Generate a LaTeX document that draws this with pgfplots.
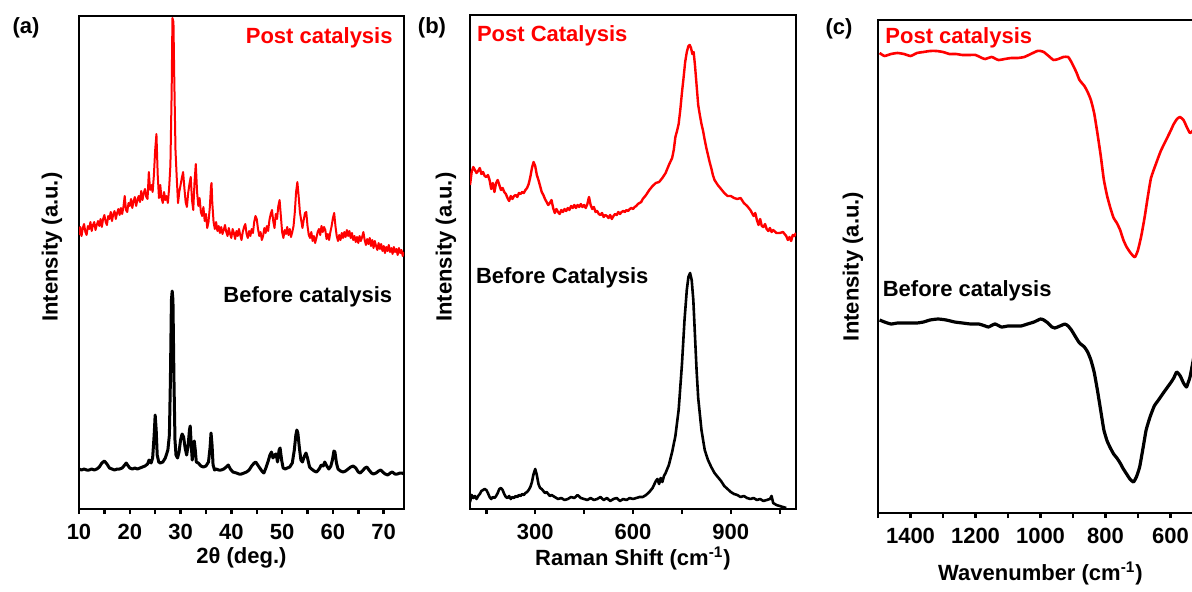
\documentclass[border=0pt]{standalone}
\usepackage{pgfplots}
\usepackage{pgfplotstable}
\pgfplotsset{compat=1.18}
\usepackage{fontspec}
\setmainfont{Liberation Sans}

\definecolor{postred}{RGB}{255,0,0}

% intensities are stored as plotted offsets (larger = lower on the panel)
\pgfplotstableread{
x y
10.00 235
10.25 227
10.50 236
10.75 228
11.00 224
11.25 232
11.50 235
11.75 226
12.00 229
12.25 222
12.50 231
12.75 225
13.00 222
13.25 230
13.50 225
13.75 221
14.00 226
14.25 219
14.50 227
14.75 219
15.00 215
15.25 222
15.50 225
15.75 216
16.00 219
16.25 212
16.50 221
16.75 214
17.00 211
17.25 219
17.50 213
17.75 209
18.00 215
18.25 208
18.50 214
18.75 207
19.00 196
19.25 210
19.50 212
19.75 203
20.00 206
20.25 199
20.50 208
20.75 201
21.00 197
21.25 206
21.50 200
21.75 196
22.00 202
22.25 191
22.50 200
22.75 193
23.00 189
23.25 197
23.50 199
23.75 172
24.00 190
24.25 185
24.50 192
24.75 175
25.00 150
25.25 134
25.50 175
25.75 198
26.00 185
26.25 198
26.50 203
26.75 192
27.00 200
27.25 196
27.50 203
27.75 188
28.00 165
28.25 90
28.40 18
28.60 22
28.75 75
29.00 150
29.25 178
29.50 203
29.75 192
30.00 185
30.25 178
30.50 172
30.75 188
31.00 202
31.25 207
31.50 193
31.75 184
32.00 177
32.25 200
32.50 210
32.75 182
33.00 164
33.25 192
33.50 206
33.75 198
34.00 212
34.25 216
34.50 207
34.75 221
35.00 214
35.25 228
35.50 222
35.75 208
36.00 186
36.10 183
36.25 203
36.50 222
36.75 229
37.00 222
37.25 231
37.50 226
37.75 233
38.00 227
38.25 234
38.50 230
38.75 225
39.00 232
39.25 236
39.50 228
39.75 234
40.00 238
40.25 229
40.50 233
40.75 239
41.00 231
41.25 236
41.50 229
41.75 235
42.00 240
42.25 232
42.50 227
42.75 224
43.00 234
43.25 238
43.50 231
43.75 236
44.00 229
44.25 233
44.50 222
44.75 216
45.00 219
45.25 229
45.50 236
45.75 232
46.00 240
46.25 236
46.50 228
46.75 233
47.00 226
47.25 231
47.50 220
47.75 214
48.00 210
48.25 221
48.50 228
48.75 214
49.00 219
49.25 206
49.50 200
49.75 216
50.00 232
50.25 238
50.50 230
50.75 234
51.00 227
51.25 235
51.50 229
51.75 237
52.00 232
52.25 226
52.50 212
52.75 192
53.00 182
53.25 196
53.50 212
53.75 220
54.00 228
54.25 220
54.50 213
54.75 212
55.00 226
55.25 235
55.50 238
55.75 232
56.00 241
56.25 236
56.50 243
56.75 238
57.00 232
57.25 229
57.50 235
57.75 226
58.00 232
58.25 227
58.50 230
58.75 239
59.00 234
59.25 240
59.50 232
59.75 226
60.00 218
60.25 213
60.50 226
60.75 236
61.00 241
61.25 235
61.50 240
61.75 233
62.00 238
62.25 232
62.50 237
62.75 230
63.00 236
63.25 231
63.50 238
63.75 233
64.00 240
64.25 236
64.50 242
64.75 237
65.00 243
65.25 236
65.50 241
65.75 237
66.00 232
66.25 240
66.50 245
66.75 239
67.00 244
67.25 238
67.50 246
67.75 240
68.00 248
68.25 241
68.50 246
68.75 250
69.00 243
69.25 249
69.50 244
69.75 251
70.00 246
70.25 253
70.50 247
70.75 251
71.00 245
71.25 252
71.50 248
71.75 254
72.00 247
72.25 252
72.50 249
72.75 255
73.00 248
73.25 253
73.50 250
73.75 256
74.00 252
}\xrdpost

\pgfplotstableread{
x y
10.0 469
10.5 470
11.0 469
11.5 470
12.0 470
12.5 469
13.0 470
13.5 469
14.0 467
14.5 463
15.0 461
15.5 464
16.0 468
16.5 469
17.0 470
17.5 469
18.0 469
18.5 468
19.0 465
19.3 463
19.7 466
20.0 468
20.5 469
21.0 468
21.5 469
22.0 468
22.5 467
23.0 466
23.5 464
23.8 460
24.2 463
24.5 458
24.8 435
25.0 415
25.2 430
25.4 455
25.7 462
26.0 463
26.5 462
27.0 458
27.5 450
27.8 435
28.0 380
28.2 300
28.35 291
28.5 300
28.7 380
28.9 440
29.1 455
29.4 458
29.7 452
30.0 440
30.3 434
30.6 437
30.9 448
31.2 455
31.5 445
31.75 430
31.9 426
32.1 445
32.3 460
32.55 445
32.7 441
32.9 450
33.1 462
33.5 463
34.0 466
34.5 467
35.0 466
35.5 462
35.8 448
36.0 433
36.2 445
36.4 465
36.7 470
37.0 469
37.5 470
38.0 470
38.5 469
39.0 467
39.4 465
39.8 469
40.3 472
41.0 473
41.5 474
42.0 474
42.5 473
43.0 472
43.5 470
44.0 466
44.5 463
44.8 462
45.2 465
45.6 468
46.0 471
46.4 473
46.8 468
47.2 462
47.6 455
47.9 452
48.2 458
48.5 455
48.8 454
49.1 462
49.4 450
49.6 448
49.9 460
50.2 468
50.6 469
51.0 468
51.5 467
52.0 463
52.4 450
52.7 435
52.9 430
53.1 433
53.4 448
53.7 460
54.0 462
54.4 456
54.7 453
55.0 458
55.4 467
55.8 469
56.3 471
56.8 472
57.3 469
57.7 465
58.1 466
58.4 462
58.8 466
59.2 469
59.6 466
59.9 460
60.2 451
60.4 452
60.7 463
61.0 469
61.5 471
62.0 472
62.5 471
63.0 469
63.5 467
64.0 466
64.5 468
65.0 472
65.4 473
65.8 471
66.3 468
66.7 467
67.1 470
67.6 473
68.0 474
68.5 473
69.0 471
69.4 470
69.8 472
70.3 474
70.8 475
71.3 473
71.7 472
72.2 474
72.7 474
73.2 473
73.6 473
74.0 474
}\xrdbefore

\pgfplotstableread{
x y
100 185
105 172
110 167
115 170
120 173
125 171
130 168
135 174
140 172
145 176
150 177
155 175
160 180
165 189
170 183
175 192
180 183
185 180
190 185
195 190
200 188
205 192
210 194
215 198
220 201
225 196
230 199
235 196
240 195
245 197
250 193
255 194
260 192
265 193
270 190
275 188
280 184
285 177
290 168
295 162
300 166
305 175
310 180
315 186
320 192
325 195
330 199
335 202
340 205
345 203
350 200
355 208
360 213
365 209
370 212
375 214
380 210
385 212
390 209
395 211
400 208
405 210
410 206
415 208
420 205
425 208
430 205
435 207
440 204
445 207
450 205
455 208
460 204
465 197
470 205
475 209
480 207
485 212
490 211
495 214
500 215
505 213
510 217
515 215
520 216
525 218
530 215
535 219
540 216
545 214
550 215
555 212
560 214
565 212
570 211
575 212
580 210
585 211
590 209
595 208
600 209
605 207
610 206
615 204
620 203
625 202
630 199
640 195
650 190
660 186
670 183
680 182
690 178
700 173
710 165
720 158
725 150
730 137
735 131
740 124
745 110
750 93
755 78
760 62
765 52
770 46
774 45
778 48
782 54
786 52
790 65
795 85
800 105
805 115
810 124
815 131
820 140
825 148
830 155
835 162
840 168
845 175
850 180
860 185
870 189
880 193
890 196
900 196
910 198
920 199
930 198
940 203
950 206
960 210
970 216
975 213
980 220
985 225
990 219
995 226
1000 227
1005 224
1010 229
1015 231
1020 228
1025 232
1030 230
1040 233
1050 233
1060 232
1070 236
1075 240
1080 237
1085 241
1090 235
1095 236
1100 233
}\ramanpost

\pgfplotstableread{
x y
100 502
105 495
110 498
115 496
120 499
125 496
130 494
135 491
140 490
145 489
150 490
155 493
160 497
165 499
170 497
175 498
180 496
185 493
190 489
195 488
200 490
205 494
210 497
215 498
220 496
225 499
230 497
235 498
240 496
245 497
250 495
255 496
260 494
265 495
270 493
275 492
280 490
285 487
290 482
295 474
300 469
305 475
310 484
315 488
320 489
325 491
330 493
335 492
340 494
345 496
350 495
360 497
370 499
380 498
390 500
400 499
410 497
420 498
430 495
440 498
450 499
460 500
470 498
480 500
490 499
500 497
510 500
520 498
530 501
540 499
550 498
560 501
570 499
580 500
590 498
600 499
610 498
620 497
630 497
640 495
650 492
660 488
670 481
675 479
680 484
685 478
690 482
695 476
700 473
710 465
720 452
730 436
740 410
750 365
758 320
765 290
770 277
775 273
780 280
785 300
790 335
795 370
800 398
810 430
820 450
830 460
840 467
850 473
860 477
870 481
880 486
890 489
900 492
910 494
920 495
930 497
940 496
950 498
960 499
970 498
980 500
990 499
1000 501
1010 500
1020 499
1025 496
1030 503
1040 505
1050 506
1060 507
1070 508
}\ramanbefore

\pgfplotstableread{
x y
1495 53
1480 56
1460 54
1440 53
1420 54
1400 56
1380 53
1360 52
1340 51
1320 51
1300 52
1280 54
1260 54
1240 55
1220 55
1200 55
1180 58
1170 59
1150 57
1130 60
1110 59
1090 58
1070 58
1050 57
1030 54
1010 51
1000 51
990 52
975 56
960 60
945 59
930 57
915 57
905 62
890 72
880 80
865 86
855 92
845 100
835 113
825 133
815 155
805 180
795 196
785 208
775 218
765 223
755 230
745 240
735 247
725 252
715 256
709 257
700 250
690 236
680 218
670 197
660 178
645 164
630 151
615 141
600 131
590 124
580 119
571 117
560 120
550 127
540 133
530 130
520 120
510 108
500 95
}\irpost

\pgfplotstableread{
x y
1495 320
1480 322
1460 324
1440 323
1420 323
1400 323
1380 323
1360 322
1340 320
1315 319
1290 320
1264 322
1240 323
1215 324
1190 324
1170 326
1160 327
1140 324
1120 327
1100 326
1080 326
1060 326
1040 324
1020 322
1000 319
990 320
977 323
965 327
956 328
940 326
925 324
915 326
905 330
890 338
880 343
865 347
855 352
845 360
835 372
825 390
815 410
805 430
795 441
785 448
775 454
765 458
755 463
745 469
735 474
725 479
714 482
705 477
695 467
684 447
675 430
663 417
650 406
637 400
620 392
600 383
590 378
581 372
570 376
560 383
551 387
545 382
540 377
530 360
520 340
510 320
500 300
}\irbefore

\pgfplotsset{
  spec/.style={
    scale only axis,
    anchor=south west,
    axis line style={line width=1.3pt},
    ytick=\empty,
    xtick pos=bottom,
    tick align=outside,
    major tick length=2.6pt,
    minor tick length=2.6pt,
    every tick/.style={black, line width=1.2pt},
    y dir=reverse,
    /pgf/number format/assume math mode=true,
    /pgf/number format/1000 sep={},
    tick label style={font=\fontsize{11}{13}\selectfont\bfseries},
    label style={font=\fontsize{11}{13}\selectfont\bfseries},
    xticklabel style={anchor=base, yshift=-12.4pt},
    ylabel={Intensity (a.u.)},
  },
}
\tikzset{lbl/.style={font=\fontsize{11}{13}\selectfont\bfseries, inner sep=0pt}}

\begin{document}
\begin{tikzpicture}[trim left=0pt, trim right=596pt]
\path (0,0) rectangle (596pt,292.5pt);

% (a) XRD
\begin{axis}[spec,
  at={(39.5pt,38pt)}, width=162.5pt, height=246.5pt,
  xmin=10, xmax=74, ymin=16, ymax=509,
  xtick={10,20,...,70}, minor xtick={15,25,...,65},
  xlabel={2θ (deg.)},
  xlabel style={at={(axis description cs:0.5,0)}, anchor=base, yshift=-27.3pt},
  ylabel style={at={(axis description cs:-0.083,0.531)}, anchor=center},
]
\addplot[postred, line width=1.0pt, line join=round] table {\xrdpost};
\addplot[black, line width=1.5pt, line join=round] table {\xrdbefore};
\end{axis}

% (b) Raman
\begin{axis}[spec,
  at={(235pt,38pt)}, width=163pt, height=247pt,
  xmin=100, xmax=1100, ymin=15, ymax=509,
  xtick={300,600,900}, minor xtick={150,450,750,1050},
  xlabel={Raman Shift (cm\textsuperscript{-1})},
  xlabel style={at={(axis description cs:0.5,0)}, anchor=base, yshift=-28pt},
  ylabel style={at={(axis description cs:-0.074,0.53)}, anchor=center},
]
\addplot[postred, line width=1.2pt, line join=round] table {\ramanpost};
\addplot[black, line width=1.3pt, line join=round] table {\ramanbefore};
\end{axis}

% (c) FTIR
\begin{axis}[spec,
  at={(439pt,36pt)}, width=162.5pt, height=246.5pt,
  xmin=500, xmax=1500, x dir=reverse, ymin=20, ymax=513,
  xtick={600,800,...,1400}, minor xtick={700,900,...,1500},
  xlabel={Wavenumber (cm\textsuperscript{-1})},
  xlabel style={at={(axis description cs:0.5,0)}, anchor=base, yshift=-33.5pt},
  ylabel style={at={(axis description cs:-0.077,0.50)}, anchor=center},
]
\addplot[postred, line width=1.3pt, line join=round, smooth, tension=0.3] table {\irpost};
\addplot[black, line width=1.6pt, line join=round, smooth, tension=0.3] table {\irbefore};
\end{axis}

% panel letters and sample labels
\node[lbl] at (13pt,278.5pt) {(a)};
\node[lbl] at (216pt,278.5pt) {(b)};
\node[lbl] at (419.5pt,278pt) {(c)};

\node[lbl, anchor=base east, text=postred] at (196.5pt,270.9pt) {Post catalysis};
\node[lbl, anchor=base east] at (196.3pt,141.2pt) {Before catalysis};
\node[lbl, anchor=base west, text=postred] at (238.3pt,271.7pt) {Post Catalysis};
\node[lbl, anchor=base west] at (237.8pt,150.5pt) {Before Catalysis};
\node[lbl, anchor=base west, text=postred] at (442.5pt,270.9pt) {Post catalysis};
\node[lbl, anchor=base west] at (441.2pt,144.2pt) {Before catalysis};
\end{tikzpicture}
\end{document}
